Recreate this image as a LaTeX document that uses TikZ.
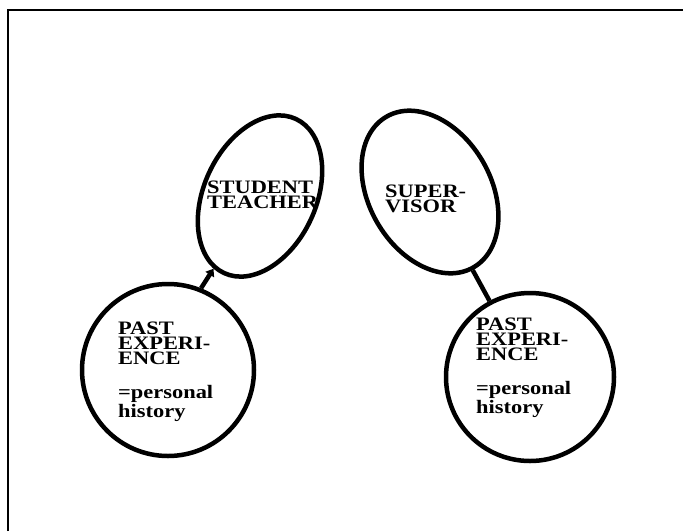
\documentclass[tikz,border=0pt]{standalone}
\usepackage{fontspec}
\setmainfont{Liberation Serif}[FakeStretch=1.18]
\usetikzlibrary{arrows.meta,shapes.geometric}
\begin{document}
\begin{tikzpicture}[x=1pt,y=-1pt,
  bubble/.style={draw, line width=4.5pt, inner sep=0pt},
  lbl/.style={font=\fontsize{19}{15}\selectfont\bfseries, align=left, anchor=north west, inner sep=0pt},
  link/.style={line width=4.5pt}]
\useasboundingbox (0,0) rectangle (683,531);
\draw[line width=2.2pt] (8,531) -- (8,10) -- (683,10);
\node[bubble, ellipse, minimum width=112pt, minimum height=170pt, rotate=-25] (st) at (260,196) {};
\node[bubble, ellipse, minimum width=122pt, minimum height=174pt, rotate=30] (sv) at (430,192) {};
\node[bubble, circle, minimum size=172pt] (pe1) at (168,370) {};
\node[bubble, circle, minimum size=168pt] (pe2) at (530,377) {};
\node[lbl] (t1) at (118,322) {PAST\\EXPERI-\\ENCE\\[19pt]=personal\\history};
\node[lbl] (t2) at (476,318) {PAST\\EXPERI-\\ENCE\\[19pt]=personal\\history};
\node[lbl] (t3) at (207,181) {STUDENT\\TEACHER};
\node[lbl] (t4) at (385,185) {SUPER-\\VISOR};
\draw[link, -{Triangle[length=7pt,width=10pt]}] (pe1.68) -- (st);
\draw[link] (sv) -- (pe2.118);
\end{tikzpicture}
\end{document}
